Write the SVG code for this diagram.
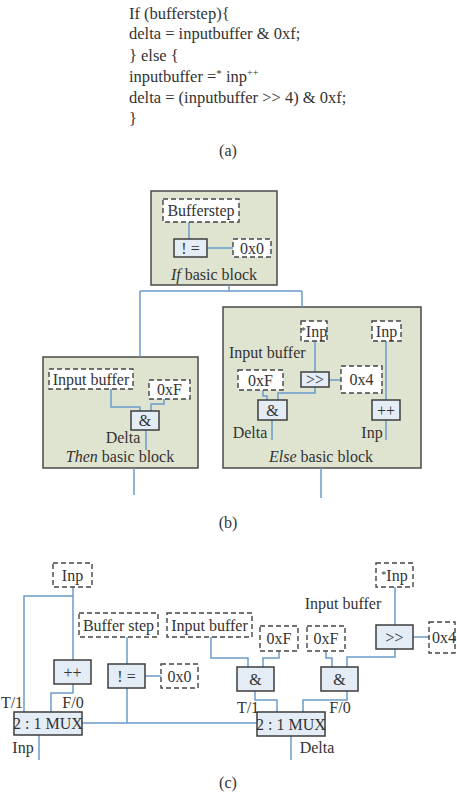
<svg xmlns="http://www.w3.org/2000/svg" width="457" height="797" viewBox="0 0 457 797">
<style>
text{font-family:"Liberation Serif","DejaVu Serif",serif;fill:#333;font-size:16px}
.c{text-anchor:middle}
.code{font-size:16.5px}
.blk{fill:#dfe4d1;stroke:#4a4a4a;stroke-width:1.5}
.op{fill:#e4ecf5;stroke:#3c3c3c;stroke-width:1.5}
.dash{fill:#fff;stroke:#444;stroke-width:1.4;stroke-dasharray:5 3}
.ln{fill:none;stroke:#6b9ccc;stroke-width:1.5}
</style>
<rect width="457" height="797" fill="#fff"/>
<g id="code">
<text class="code" x="129" y="19">If (bufferstep){</text>
<text class="code" x="129" y="39">delta = inputbuffer &amp; 0xf;</text>
<text class="code" x="129" y="60.5">} else {</text>
<text class="code" x="129" y="81.5">inputbuffer =<tspan font-size="11" dy="-5">*</tspan><tspan dy="5"> inp</tspan><tspan font-size="10" dy="-6">++</tspan></text>
<text class="code" x="129" y="103">delta = (inputbuffer &gt;&gt; 4) &amp; 0xf;</text>
<text class="code" x="129" y="124">}</text>
<text class="c" x="228" y="155.5">(a)</text>
</g>
<g id="if_block">
<rect class="blk" x="151" y="191" width="126" height="94"/>
<text class="c" x="214" y="279.5"><tspan font-style="italic">If</tspan> basic block</text>
</g>
<g id="then_block">
<rect class="blk" x="43" y="357" width="155" height="111"/>
<text class="c" x="120" y="462"><tspan font-style="italic">Then</tspan> basic block</text>
</g>
<g id="else_block">
<rect class="blk" x="223" y="307" width="198" height="161"/>
<text class="c" x="321" y="461.5"><tspan font-style="italic">Else</tspan> basic block</text>
</g>
<g id="connectors">
<path class="ln" d="M189 222V239M207 248H233M229 285V291M140 291H302M140 291V357M302 291V307"/>
<path class="ln" d="M111 389V407H140V411M164 399V404H151V411M146 430V450M134 468V495"/>
<path class="ln" d="M315 341V372M329 380H341M315 387V393H278V400M263 390V396H267V400M272 420V440M386 341V400M386 420V440M321 468V498"/>
<path class="ln" d="M73 587V660M73 596H24V712M73 684V693H51V712M39 735V760"/>
<path class="ln" d="M127 637V664M145 676H161M127 688V723M82 723H257M211 637V658H248V667"/>
<path class="ln" d="M395 587V625M413 637H429M395 649V657H347V667M279 651V658H263V667M326 651V658H332V667M255 691V700H277V712M347 691V700H303V712M291 736V760"/>
</g>
<g id="b_bufferstep">
<rect class="dash" x="163" y="199" width="76" height="23"/>
<text class="c" x="201" y="216">Bufferstep</text>
</g>
<g id="b_neq">
<rect class="op" x="174" y="239" width="33" height="18"/>
<text class="c" x="190.5" y="253.5">! =</text>
</g>
<g id="b_0x0">
<rect class="dash" x="233" y="239" width="38" height="18"/>
<text class="c" x="252" y="253.5">0x0</text>
</g>
<g id="b_then_inbuf">
<rect class="dash" x="49" y="369" width="84" height="20"/>
<text class="c" x="91" y="384.5">Input buffer</text>
</g>
<g id="b_then_0xf">
<rect class="dash" x="149" y="380" width="41" height="19"/>
<text class="c" x="169.5" y="395">0xF</text>
</g>
<g id="b_then_and">
<rect class="op" x="131" y="411" width="28" height="19"/>
<text class="c" x="145" y="426">&amp;</text>
<text class="c" x="123" y="443">Delta</text>
</g>
<g id="b_else_starinp">
<rect class="dash" x="301" y="321" width="26" height="20"/>
<text class="c" x="314" y="336.5"><tspan font-size="10" dy="-3">*</tspan><tspan dy="3">Inp</tspan></text>
<text x="229" y="358">Input buffer</text>
</g>
<g id="b_else_inp">
<rect class="dash" x="372" y="321" width="29" height="20"/>
<text class="c" x="386.5" y="336.5">Inp</text>
</g>
<g id="b_else_0xf">
<rect class="dash" x="238" y="370" width="45" height="20"/>
<text class="c" x="260.5" y="385.5">0xF</text>
</g>
<g id="b_else_shift">
<rect class="op" x="301" y="372" width="28" height="15"/>
<text class="c" x="315" y="385">&gt;&gt;</text>
</g>
<g id="b_else_0x4">
<rect class="dash" x="341" y="366" width="41" height="27"/>
<text class="c" x="361.5" y="385">0x4</text>
</g>
<g id="b_else_and">
<rect class="op" x="258" y="400" width="29" height="20"/>
<text class="c" x="272.5" y="415.5">&amp;</text>
<text class="c" x="250" y="437.5">Delta</text>
</g>
<g id="b_else_inc">
<rect class="op" x="372" y="400" width="28" height="20"/>
<text class="c" x="386" y="415.5">++</text>
<text class="c" x="372" y="437.5">Inp</text>
</g>
<text class="c" x="228" y="528">(b)</text>
<g id="c_inp">
<rect class="dash" x="53" y="563" width="39" height="24"/>
<text class="c" x="72.5" y="580.5">Inp</text>
</g>
<g id="c_inc">
<rect class="op" x="54" y="660" width="37" height="24"/>
<text class="c" x="72.5" y="677.5">++</text>
</g>
<g id="c_mux1">
<rect class="op" x="14" y="712" width="68" height="23"/>
<text class="c" x="48" y="729">2 : 1 MUX</text>
<text class="c" x="12" y="707.5">T/1</text>
<text class="c" x="73" y="707.5">F/0</text>
<text class="c" x="23" y="753">Inp</text>
</g>
<g id="c_bufstep">
<rect class="dash" x="79" y="613" width="79" height="24"/>
<text class="c" x="118.5" y="630.5">Buffer step</text>
</g>
<g id="c_inbuf">
<rect class="dash" x="167" y="613" width="85" height="24"/>
<text class="c" x="209.5" y="630.5">Input buffer</text>
</g>
<g id="c_neq">
<rect class="op" x="108" y="664" width="37" height="24"/>
<text class="c" x="126.5" y="681.5">! =</text>
</g>
<g id="c_0x0">
<rect class="dash" x="161" y="664" width="37" height="24"/>
<text class="c" x="179.5" y="681.5">0x0</text>
</g>
<g id="c_0xf1">
<rect class="dash" x="260" y="626" width="38" height="25"/>
<text class="c" x="279" y="644">0xF</text>
</g>
<g id="c_0xf2">
<rect class="dash" x="307" y="626" width="38" height="25"/>
<text class="c" x="326" y="644">0xF</text>
</g>
<g id="c_and1">
<rect class="op" x="237" y="667" width="37" height="24"/>
<text class="c" x="255.5" y="684.5">&amp;</text>
</g>
<g id="c_and2">
<rect class="op" x="321" y="667" width="37" height="24"/>
<text class="c" x="339.5" y="684.5">&amp;</text>
</g>
<g id="c_starinp">
<rect class="dash" x="376" y="563" width="37" height="24"/>
<text class="c" x="394.5" y="580.5"><tspan font-size="10" dy="-3">*</tspan><tspan dy="3">Inp</tspan></text>
<text class="c" x="343" y="608.5">Input buffer</text>
</g>
<g id="c_shift">
<rect class="op" x="376" y="625" width="37" height="24"/>
<text class="c" x="394.5" y="642.5">&gt;&gt;</text>
</g>
<g id="c_0x4">
<rect class="dash" x="429" y="622" width="26" height="31"/>
<text x="432" y="643">0x4</text>
</g>
<g id="c_mux2">
<rect class="op" x="257" y="712" width="68" height="24"/>
<text class="c" x="291" y="729.5">2 : 1 MUX</text>
<text class="c" x="248" y="713">T/1</text>
<text class="c" x="340" y="713">F/0</text>
<text class="c" x="317" y="753">Delta</text>
</g>
<text class="c" x="228" y="788">(c)</text>
</svg>
